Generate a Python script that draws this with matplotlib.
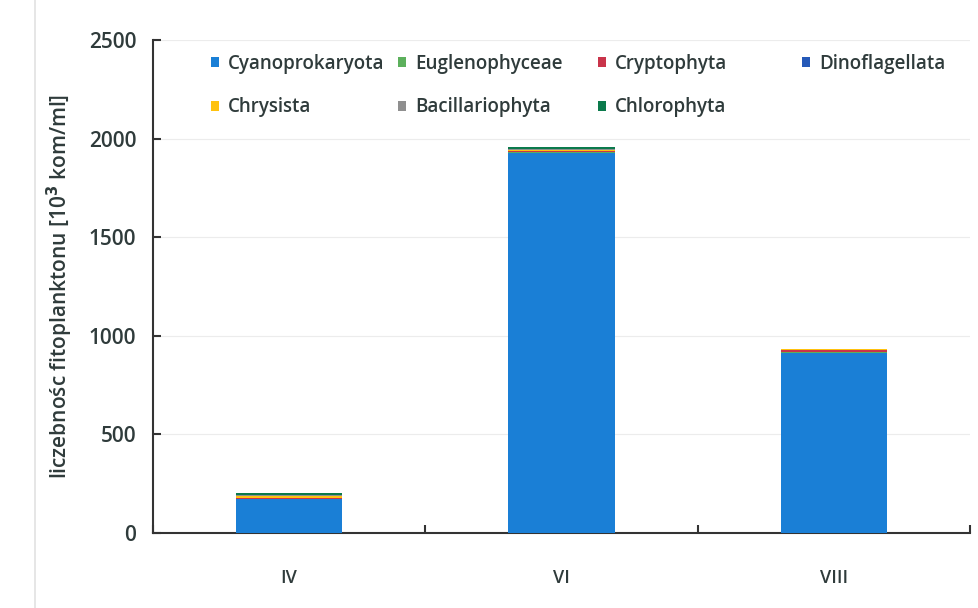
import matplotlib
matplotlib.use("Agg")
import matplotlib.pyplot as plt
import numpy as np
from matplotlib.patches import Rectangle

months = ["IV", "VI", "VIII"]
series_names = ["Cyanoprokaryota", "Euglenophyceae", "Cryptophyta", "Dinoflagellata",
                "Chrysista", "Bacillariophyta", "Chlorophyta"]
cyanoprokaryota = [170, 1925, 915]
euglenophyceae = [3, 5, 2]
cryptophyta = [3, 5, 12]
dinoflagellata = [0, 0, 1]
chrysista = [12, 8, 1]
bacillariophyta = [5, 5, 1]
chlorophyta = [12, 8, 3]
colors = ["#1a7fd6", "#5cb05c", "#c9344a", "#2559b8", "#ffc20e", "#8f8f8f", "#0b7a4c"]

values = [cyanoprokaryota, euglenophyceae, cryptophyta, dinoflagellata,
          chrysista, bacillariophyta, chlorophyta]

plt.rcParams['font.family'] = ['Open Sans', 'DejaVu Sans']
plt.rcParams['font.weight'] = 'semibold'
txt = "#2f3b3b"

fig = plt.figure(figsize=(9.79, 6.08), dpi=100)
# faint outer chart border
fig.add_artist(Rectangle((35/979, -0.01), 1.0, 1.02, transform=fig.transFigure,
                         fill=False, edgecolor="#e2e2e2", linewidth=1.2))
ax = fig.add_axes([153/979, 1 - 533/608, (970 - 153)/979, (533 - 40)/608])

x = np.arange(len(months))
bottom = np.zeros(len(months))
handles = []
for name, vals, c in zip(series_names, values, colors):
    b = ax.bar(x, vals, width=0.39, bottom=bottom, color=c, label=name, zorder=3)
    handles.append(b)
    bottom += np.array(vals)

ax.set_xlim(-0.5, 2.5)
ax.set_ylim(0, 2500)
ax.set_yticks(np.arange(0, 2501, 500))
ax.yaxis.grid(True, color="#ececec", linewidth=0.8, zorder=0)
ax.set_xticks(x)
ax.set_xticklabels(months)
ax.set_xticks([-0.5, 0.5, 1.5, 2.5], minor=True)
ax.tick_params(axis='x', which='major', length=0, pad=26, labelsize=13, labelcolor=txt)
ax.tick_params(axis='x', which='minor', direction='in', length=6, width=1.5, color="#333333")
ax.tick_params(axis='y', direction='in', length=6, width=1.5, color="#333333",
               pad=12, labelsize=15, labelcolor=txt)
for s in ["top", "right"]:
    ax.spines[s].set_visible(False)
for s in ["left", "bottom"]:
    ax.spines[s].set_color("#333333")
    ax.spines[s].set_linewidth(1.5)

ax.set_ylabel("liczebnośc fitoplanktonu [10$^3$ kom/ml]", fontsize=15, color=txt,
              fontweight='semibold', labelpad=10)

# legend laid out as 4 columns at fixed positions (Excel-like)
columns = [[0, 4], [1, 5], [2, 6], [3]]
col_x = [211, 398, 598, 802]
for idxs, cx in zip(columns, col_x):
    lg = fig.legend([handles[i] for i in idxs], [series_names[i] for i in idxs],
                    loc="upper left", bbox_to_anchor=(cx / 979, 1 - 54 / 608),
                    frameon=False, fontsize=13.5, handlelength=0.45, handleheight=0.45,
                    handletextpad=0.45, borderpad=0, borderaxespad=0,
                    labelspacing=1.25, labelcolor=txt)

fig.savefig("out.png", dpi=100)
